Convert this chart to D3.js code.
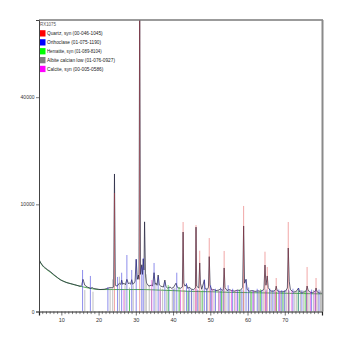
<!DOCTYPE html>
<html>
<head>
<meta charset="utf-8">
<script src="https://cdn.jsdelivr.net/npm/d3@7"></script>
<style>
  html, body { margin: 0; padding: 0; background: #fff; }
  svg { display: block; }
  text { font-family: "Liberation Sans", Arial, sans-serif; }
</style>
</head>
<body>
<svg id="chart" width="340" height="340"></svg>
<script>
// Scan title and reference phases (name, card number, colour)
const scanName = "RX1075";
const phaseNames = [
  "Quartz, syn (00-046-1045)",
  "Orthoclase (01-075-1190)",
  "Hematite, syn (01-089-8104)",
  "Albite calcian low (01-076-0927)",
  "Calcite, syn (00-005-0586)"
];
const phaseColors = ["#ff0000", "#0000ff", "#00ff00", "#808080", "#ff00ff"];
const stickColors = ["rgba(225,60,60,0.45)", "rgba(50,50,220,0.55)", "rgba(30,200,30,0.6)",
                     "rgba(140,140,140,0.55)", "rgba(220,40,220,0.55)"];

// Reference peak positions [2theta, counts]
const quartzSticks = [
  [24.27, 12230], [31.04, 74000], [42.70, 6975], [46.17, 6500], [47.16, 3218],
  [49.72, 4700], [53.72, 3190], [58.95, 9700], [64.69, 3114], [65.30, 1725],
  [67.70, 977], [70.94, 6975], [76.00, 1725], [78.40, 977]
];
const orthoclaseSticks = [
  [15.7, 1500], [17.8, 1100], [22.5, 520], [25.1, 1040], [26.2, 1310], [27.6, 2780],
  [28.9, 1500], [30.1, 2400], [31.6, 1750], [32.0, 2490], [34.9, 2050], [36.0, 1050],
  [37.8, 770], [38.9, 500], [40.2, 450], [41.0, 1310], [43.6, 700], [44.3, 500],
  [45.0, 420], [46.5, 420], [48.4, 900], [49.0, 450], [50.1, 600], [51.4, 450],
  [52.8, 500], [53.6, 450], [54.8, 600], [56.0, 450], [57.3, 400], [58.5, 420],
  [59.6, 900], [60.3, 500], [61.5, 400], [62.6, 450], [63.8, 400], [65.0, 420],
  [66.0, 450], [66.8, 400], [68.4, 420], [69.2, 400], [70.0, 400], [71.0, 420],
  [72.2, 450], [73.7, 480], [74.6, 400], [75.9, 400], [77.2, 420], [78.3, 400],
  [79.2, 420]
];
const hematiteSticks = [
  [28.3, 400], [38.7, 612], [41.6, 520], [44.0, 350], [47.8, 380], [53.0, 360],
  [57.9, 420], [61.0, 350], [63.5, 430], [67.8, 330], [69.5, 340], [73.6, 380],
  [75.5, 380]
];
const albiteSticks = [
  [16.3, 400], [18.5, 341], [23.1, 520], [23.8, 900], [25.6, 1055], [27.1, 600],
  [28.3, 500], [29.3, 600], [32.45, 2400], [32.8, 1200], [33.6, 600], [34.2, 450],
  [35.4, 700], [36.6, 500], [37.2, 450], [38.3, 420], [39.8, 450], [40.5, 500],
  [41.8, 400], [43.0, 400], [44.2, 380], [44.9, 450], [45.6, 400], [46.8, 400],
  [47.4, 380], [48.0, 420], [49.2, 500], [50.3, 380], [51.0, 400], [52.2, 420],
  [53.2, 380], [54.2, 380], [55.2, 400], [56.5, 380], [57.7, 400], [58.2, 380],
  [59.0, 380], [60.2, 380], [60.8, 400], [61.9, 380], [62.9, 400], [63.2, 380],
  [64.2, 380], [65.9, 380], [66.4, 400], [67.2, 380], [68.9, 380], [69.8, 380],
  [70.4, 400], [71.3, 380], [72.7, 380], [73.2, 380], [74.2, 400], [75.1, 380],
  [75.8, 380], [76.5, 380], [77.7, 400], [78.9, 380], [79.6, 380]
];
const calciteSticks = [
  [26.8, 400], [34.3, 864], [36.5, 380], [42.0, 420], [46.1, 460], [50.5, 450],
  [52.4, 360], [55.7, 400], [56.9, 400], [61.5, 360], [64.9, 360], [67.5, 360],
  [68.6, 350], [71.9, 360], [76.9, 350], [78.1, 350]
];

// Measured scan [2theta, counts]
const scan = [
  [4.0, 2400], [4.3, 2150], [4.8, 1900], [5.5, 1700], [6.3, 1520], [7.0, 1400],
  [8.0, 1180], [9.0, 1000], [9.7, 880], [10.5, 800], [11.5, 720], [12.4, 680],
  [13.5, 630], [14.5, 580], [15.1, 550], [15.5, 620], [15.8, 900], [16.0, 780],
  [16.3, 600], [17.0, 520], [17.8, 470], [18.3, 500], [18.7, 460], [20.4, 420],
  [21.5, 430], [22.5, 470], [23.1, 500], [23.6, 490], [24.05, 520], [24.27, 16470],
  [24.5, 600], [25.0, 560], [25.6, 700], [26.0, 640], [26.2, 860], [26.5, 640],
  [26.8, 700], [27.2, 620], [27.6, 900], [28.0, 680], [28.3, 700], [28.6, 650],
  [28.9, 880], [29.2, 640], [29.5, 700], [29.8, 800], [30.1, 2370], [30.4, 900],
  [30.7, 1160], [30.85, 900], [31.04, 95000], [31.25, 1200], [31.6, 1900],
  [31.8, 1200], [32.0, 2400], [32.2, 1500], [32.35, 7000], [32.6, 1100],
  [32.9, 700], [33.5, 560], [34.2, 610], [34.5, 560], [34.9, 1310], [35.2, 640],
  [35.4, 710], [35.7, 600], [36.0, 1160], [36.3, 620], [36.7, 560], [37.4, 520],
  [37.8, 860], [38.1, 540], [38.5, 480], [39.2, 520], [39.6, 470], [40.1, 500],
  [40.8, 700], [41.1, 520], [41.5, 480], [42.0, 470], [42.5, 520], [42.70, 5500],
  [42.9, 700], [43.2, 560], [43.6, 640], [44.0, 460], [44.3, 520], [45.0, 430],
  [45.5, 420], [46.0, 480], [46.17, 6200], [46.35, 560], [46.9, 480], [47.16, 2050],
  [47.35, 700], [47.7, 430], [48.4, 860], [48.6, 450], [49.2, 430], [49.5, 500],
  [49.72, 2620], [49.95, 600], [50.4, 400], [51.0, 420], [51.5, 380], [52.3, 400],
  [52.8, 450], [53.2, 380], [53.5, 440], [53.72, 1650], [53.95, 500], [54.5, 380],
  [55.0, 420], [55.8, 380], [56.5, 360], [57.3, 400], [58.0, 380], [58.7, 500],
  [58.95, 6370], [59.2, 700], [59.6, 900], [59.9, 420], [60.5, 360], [61.2, 380],
  [62.0, 350], [62.8, 370], [63.5, 350], [64.4, 420], [64.69, 1880], [64.95, 600],
  [65.30, 1100], [65.55, 500], [66.2, 360], [67.0, 360], [67.5, 400], [67.70, 560],
  [67.95, 380], [68.6, 340], [69.5, 340], [70.2, 360], [70.7, 480], [70.94, 3510],
  [71.2, 800], [71.5, 420], [72.3, 330], [73.0, 340], [73.7, 480], [74.0, 330],
  [74.8, 320], [75.5, 340], [75.8, 400], [76.0, 566], [76.25, 400], [76.8, 320],
  [77.5, 310], [78.2, 360], [78.4, 481], [78.65, 340], [79.2, 300], [80.0, 290]
];

// Fitted background [2theta, counts]
const backgroundCurve = [
  [4.0, 2350], [5, 1800], [6, 1550], [7, 1350], [8, 1150], [10, 850], [12, 700],
  [14, 600], [16, 520], [18, 460], [20, 420], [24, 420], [28, 420], [32, 420],
  [36, 400], [40, 380], [45, 350], [50, 340], [55, 320], [60, 310], [65, 300],
  [70, 290], [75, 280], [80, 270]
];

// Axis ticks
const xMajorTicks = [10, 20, 30, 40, 50, 60, 70];
const yTicks = [0, 10000, 40000];
const xDomain = [4, 80];
const yMax = 74000;

const svg = d3.select("#chart");
const plotLeft = 39, plotRight = 322, plotTop = 20, plotBottom = 311.5;

const x = d3.scaleLinear().domain(xDomain).range([plotLeft, plotRight]);
const y = d3.scaleSqrt().domain([0, yMax]).range([plotBottom, plotTop]);

svg.append("defs").append("clipPath").attr("id", "plot-clip")
  .append("rect").attr("x", plotLeft).attr("y", plotTop)
  .attr("width", plotRight - plotLeft).attr("height", plotBottom - plotTop);

const plot = svg.append("g").attr("clip-path", "url(#plot-clip)");

// Background and measured scan
plot.append("path").datum(backgroundCurve)
  .attr("d", d3.line().x(d => x(d[0])).y(d => y(d[1])).curve(d3.curveMonotoneX))
  .attr("fill", "none").attr("stroke", "#2e9a2e").attr("stroke-width", 0.8);

plot.append("path").datum(scan)
  .attr("d", d3.line().x(d => x(d[0])).y(d => y(d[1])))
  .attr("fill", "none").attr("stroke", "#262640").attr("stroke-width", 0.75)
  .attr("stroke-linejoin", "round");

// Reference sticks over the scan, drawn from zero counts
const stickSets = [quartzSticks, orthoclaseSticks, hematiteSticks, albiteSticks, calciteSticks];
const drawOrder = [3, 1, 4, 2, 0];
drawOrder.forEach(i => {
  plot.append("g").selectAll("line").data(stickSets[i]).join("line")
    .attr("x1", d => x(d[0])).attr("x2", d => x(d[0]))
    .attr("y1", y(0)).attr("y2", d => y(d[1]))
    .attr("stroke", stickColors[i]).attr("stroke-width", 1);
});

// Frame (top and right)
svg.append("line").attr("x1", plotLeft).attr("x2", plotRight + 1)
  .attr("y1", plotTop).attr("y2", plotTop)
  .attr("stroke", "#7a7a7a").attr("stroke-width", 1.5);
svg.append("line").attr("x1", plotRight + 0.5).attr("x2", plotRight + 0.5)
  .attr("y1", plotTop).attr("y2", plotBottom)
  .attr("stroke", "#8a8a8a").attr("stroke-width", 2);

// X axis with 1-degree minor ticks
const xAxis = d3.axisBottom(x).tickValues(xMajorTicks).tickFormat(d3.format("d"))
  .tickSize(4).tickPadding(3);
const gx = svg.append("g").attr("transform", `translate(0,${plotBottom})`).call(xAxis);
gx.select(".domain").attr("stroke", "#222").attr("stroke-width", 1.2);
gx.selectAll(".tick line").attr("stroke", "#333").attr("stroke-width", 0.7);
gx.selectAll(".tick text").attr("font-size", 5.5).attr("fill", "#333")
  .attr("font-family", "Liberation Sans, Arial, sans-serif");
const minor = d3.range(5, 80).filter(v => v % 10 !== 0);
gx.append("g").selectAll("line").data(minor).join("line")
  .attr("x1", d => x(d)).attr("x2", d => x(d)).attr("y1", 0).attr("y2", 2.6)
  .attr("stroke", "#333").attr("stroke-width", 0.6);

// Y axis
const yAxis = d3.axisLeft(y).tickValues(yTicks).tickFormat(d3.format("d"))
  .tickSize(3).tickPadding(1.5);
const gy = svg.append("g").attr("transform", `translate(${plotLeft},0)`).call(yAxis);
gy.select(".domain").attr("stroke", "#444").attr("stroke-width", 1);
gy.selectAll(".tick line").attr("stroke", "#444").attr("stroke-width", 0.7);
gy.selectAll(".tick text").attr("font-size", 5).attr("fill", "#333")
  .attr("font-family", "Liberation Sans, Arial, sans-serif");

// Legend
const legend = svg.append("g");
legend.append("text").attr("x", 40).attr("y", 26).text(scanName)
  .attr("font-size", 5).attr("fill", "#555")
  .attr("textLength", 16).attr("lengthAdjust", "spacingAndGlyphs");
const rowY = [30.2, 39.2, 48.1, 57, 65.8];
const textLen = [55.7, 54, 54.7, 68, 56.3];
phaseNames.forEach((name, i) => {
  legend.append("rect").attr("x", 40).attr("y", rowY[i]).attr("width", 5.5).attr("height", 6.3)
    .attr("fill", phaseColors[i]);
  legend.append("text").attr("x", 47).attr("y", rowY[i] + 5).text(name)
    .attr("font-size", 5).attr("fill", "#222")
    .attr("textLength", textLen[i]).attr("lengthAdjust", "spacingAndGlyphs");
});
</script>
</body>
</html>
